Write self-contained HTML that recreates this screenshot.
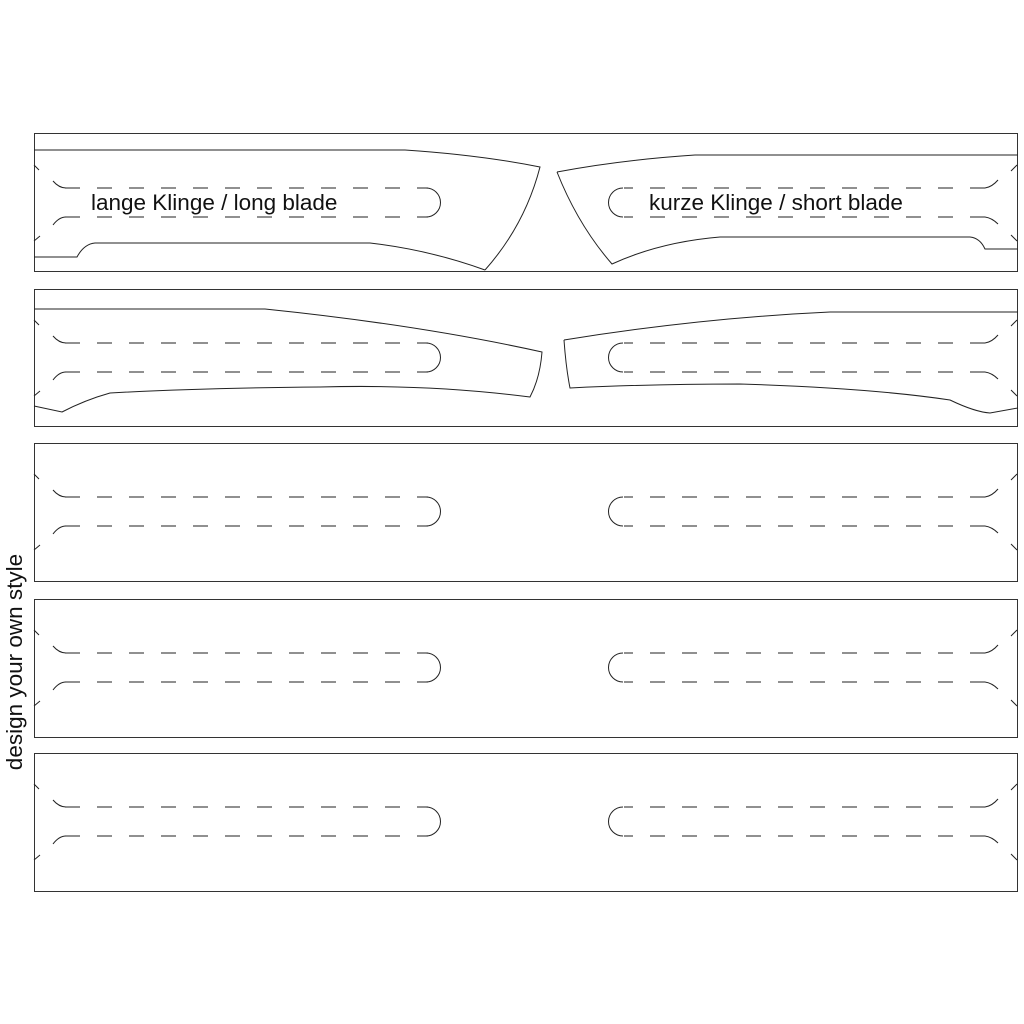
<!DOCTYPE html>
<html><head><style>body{margin:0;background:#fff}svg{display:block}</style></head>
<body>
<svg width="1024" height="1024" viewBox="0 0 1024 1024" xmlns="http://www.w3.org/2000/svg">
<defs>
<g id="slots" fill="none" stroke="#222" stroke-width="1">
  <path d="M65,54 H428" stroke-dasharray="15 17"/>
  <path d="M65,83 H428" stroke-dasharray="15 17"/>
  <path d="M426,54 A14.5,14.5 0 0 1 426,83"/>
  <path d="M53,47 Q59,54 66,54"/>
  <path d="M53,91 Q59,83 66,83"/>
  <path d="M624,54 H986" stroke-dasharray="15 17" stroke-dashoffset="6"/>
  <path d="M624,83 H986" stroke-dasharray="15 17" stroke-dashoffset="6"/>
  <path d="M623,54 A14.5,14.5 0 0 0 623,83"/>
  <path d="M985,54 Q992,53 998,46"/>
  <path d="M985,83 Q992,84 998,90"/>
  <path d="M34,31 L39,36 M34,107 L40,102 M1011,37 L1017,31 M1011,101 L1017,107"/>
</g>
</defs>
<g fill="none" stroke="#333" stroke-width="1">
  <rect x="34.5" y="133.5" width="983" height="138"/>
  <rect x="34.5" y="289.5" width="983" height="137"/>
  <rect x="34.5" y="443.5" width="983" height="138"/>
  <rect x="34.5" y="599.5" width="983" height="138"/>
  <rect x="34.5" y="753.5" width="983" height="138"/>
</g>
<use href="#slots" transform="translate(0,134)"/>
<use href="#slots" transform="translate(0,289)"/>
<use href="#slots" transform="translate(0,443)"/>
<use href="#slots" transform="translate(0,599)"/>
<use href="#slots" transform="translate(0,753)"/>
<g fill="none" stroke="#222" stroke-width="1">
  <path d="M34,150 H405 Q480,155 540,167 Q525,225 485,270"/>
  <path d="M34,257 H77 Q84,244 95,243 H370 Q430,250 485,270"/>
  <path d="M557,172 Q620,160 695,155 H1018"/>
  <path d="M557,172 Q578,225 612,264 Q660,242 720,237 H970 Q980,238 985,249 H1018"/>
  <path d="M34,309 H265 Q420,325 542,352 Q540,378 530,397 Q430,384 320,387 Q200,388 110,393 Q85,400 62,412 L34,406"/>
  <path d="M564,340 Q700,318 830,312 H1018"/>
  <path d="M564,340 Q566,368 570,388 Q650,384 740,384 Q870,388 950,400 Q975,412 990,413 L1018,408"/>
</g>
<g font-family="Liberation Sans, sans-serif" font-size="22.5" fill="#111">
  <text x="91" y="210">lange Klinge / long blade</text>
  <text x="649" y="210">kurze Klinge / short blade</text>
  <text transform="translate(22,662) rotate(-90)" text-anchor="middle" font-size="22.5">design your own style</text>
</g>
</svg>
</body></html>
